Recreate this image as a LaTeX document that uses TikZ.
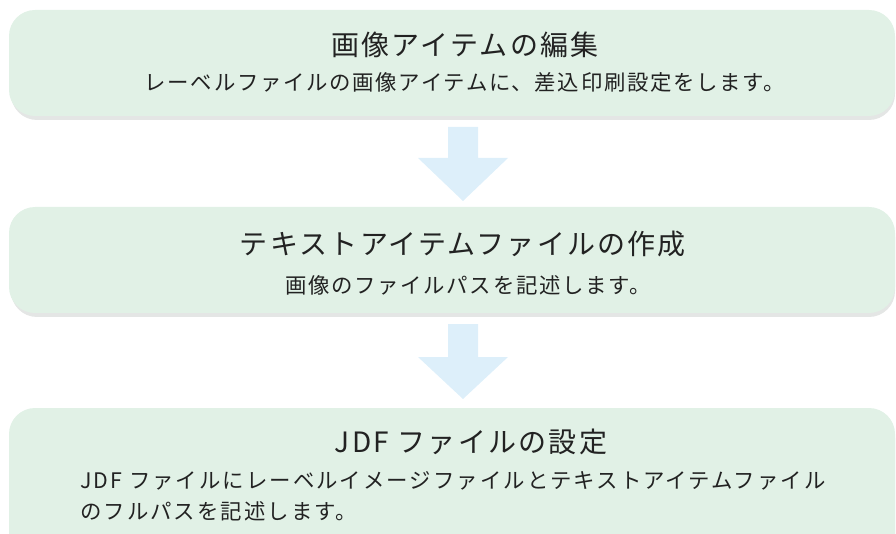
\documentclass[tikz,border=0pt]{standalone}
\usepackage{fontspec}
\setmainfont{Noto Sans CJK JP}
\definecolor{boxfill}{HTML}{E1F1E6}
\definecolor{shadowc}{HTML}{E4E6E5}
\definecolor{arrowc}{HTML}{DDEFFA}
\definecolor{txt}{HTML}{222222}
\tikzset{
  boxshadow/.style={fill=shadowc, rounded corners=26pt},
  boxbody/.style={fill=boxfill, rounded corners=26pt},
  titletext/.style={text=txt, inner sep=0pt, font=\fontsize{28}{32}\selectfont\addfontfeatures{LetterSpace=8}},
  subtext/.style={text=txt, inner sep=0pt, font=\fontsize{21.4}{25}\selectfont\addfontfeatures{LetterSpace=8}},
  bodytext/.style={text=txt, inner sep=0pt, anchor=west, font=\fontsize{21.4}{25}\selectfont\addfontfeatures{LetterSpace=9.5}},
  downarrow/.style={fill=arrowc}
}
\begin{document}
\begin{tikzpicture}[x=1pt,y=-1pt]
\useasboundingbox (0,0) rectangle (896,534);
\clip (0,0) rectangle (896,534);
% boxes
\fill[boxshadow] (11,14) rectangle (895,120);
\fill[boxbody] (9,10) rectangle (895,116);
\fill[boxshadow] (11,211) rectangle (895,317);
\fill[boxbody] (9,207) rectangle (895,313);
\fill[boxshadow] (11,412) rectangle (895,580);
\fill[boxbody] (9,408) rectangle (895,576);
% arrows
\fill[downarrow] (448,127) -- (478,127) -- (478,158) -- (508,158) -- (463,201) -- (418,158) -- (448,158) -- cycle;
\fill[downarrow] (448,324) -- (478,324) -- (478,357) -- (508,357) -- (463,399) -- (418,357) -- (448,357) -- cycle;
% texts
\node[titletext] (t1) at (465,45) {画像アイテムの編集};
\node[subtext] (s1) at (465,82) {レーベルファイルの画像アイテムに、差込印刷設定をします。};
\node[titletext] (t2) at (463,244) {テキストアイテムファイルの作成};
\node[subtext] (s2) at (468,285) {画像のファイルパスを記述します。};
\node[titletext] (t3) at (471,442) {JDF ファイルの設定};
\node[bodytext] (b1) at (80,481) {JDF ファイルにレーベルイメージファイルとテキストアイテムファイル};
\node[bodytext] (b2) at (80,511) {のフルパスを記述します。};
\end{tikzpicture}
\end{document}
